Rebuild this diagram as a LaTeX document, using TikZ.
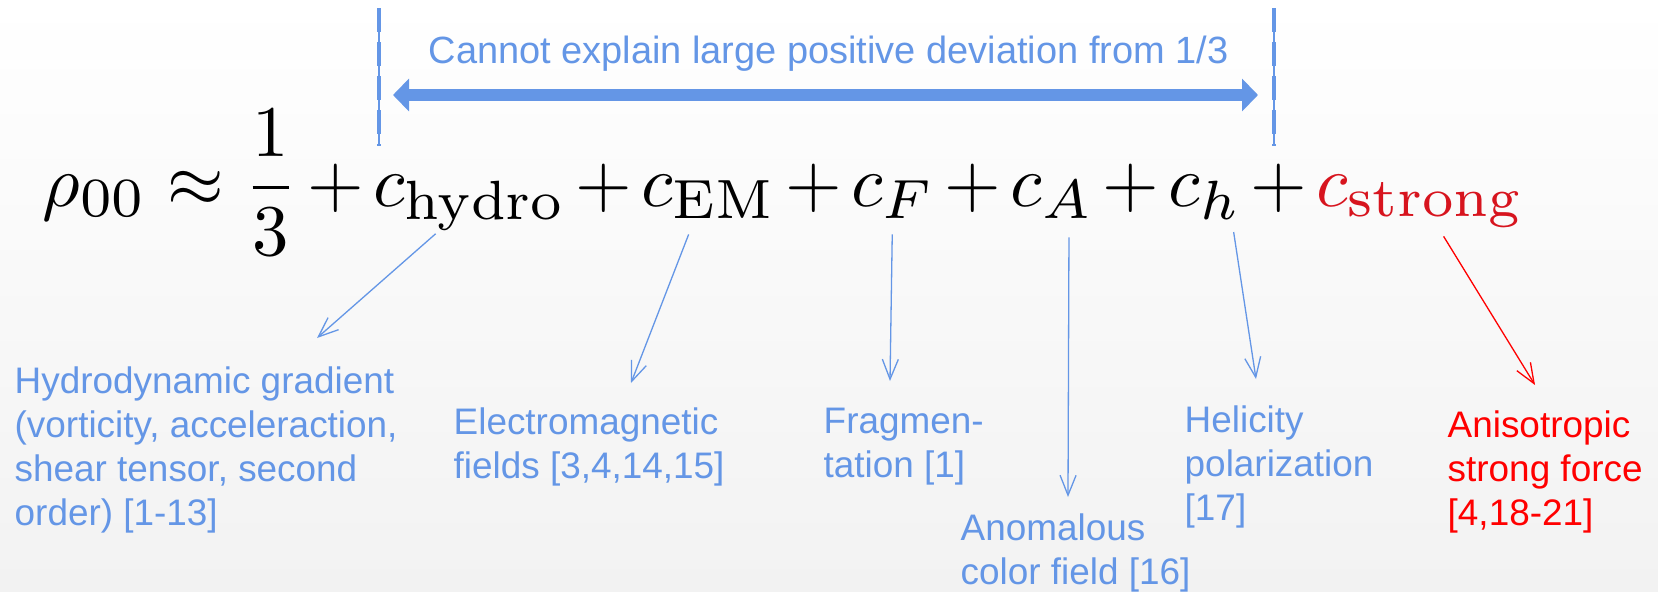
\RequirePackage{fix-cm}
\documentclass[tikz,border=0pt]{standalone}
\usepackage[no-math]{fontspec}
\usepackage{graphicx}
\newfontfamily\labelfont{Liberation Sans}
\usetikzlibrary{positioning, arrows.meta}
\DeclareMathSizes{10}{10}{7.6}{5}
\definecolor{slideblue}{RGB}{100,150,230}
\definecolor{slidered}{RGB}{255,0,0}
\definecolor{termred}{RGB}{215,20,30}
\definecolor{slidegray}{RGB}{242,242,242}
\newcommand{\slidemath}[1]{\scalebox{2.07}{$\displaystyle\medmuskip=2mu #1$}}
\tikzset{
	eqpart/.style={inner sep=0pt},
	remark/.style={inner sep=0pt, anchor=north west, align=left, text=slideblue, font=\labelfont\fontsize{10.5}{12.5}\selectfont},
	pointer/.style={draw=slideblue, line width=0.37pt, -{Straight Barb[length=2mm, width=1.6mm]}},
	bound/.style={slideblue, line width=0.4mm, dash pattern=on 2.4mm off 1mm},
	span/.style={slideblue, line width=1.2mm, {Triangle[length=1.6mm, width=3.2mm]}-{Triangle[length=1.6mm, width=3.2mm]}},
}
\begin{document}
\begin{tikzpicture}[x=.1mm, y=-.1mm]
	\useasboundingbox (0,0) rectangle (1658,591);
	\shade[top color=white, bottom color=slidegray] (0,0) rectangle (1658,591);
	\foreach \side/\xpos in {l/379, r/1274}{
			\coordinate (bound-\side-top) at (\xpos, 8);
			\coordinate (bound-\side-bot) at (\xpos, 146);
			\draw[slideblue, line width=.12mm] (bound-\side-top) -- (bound-\side-bot);
			\draw[bound] (bound-\side-top) -- (bound-\side-bot);
		}
	\coordinate (span-l) at (393, 95);
	\coordinate (span-r) at (1258, 95);
	\draw[span] (span-l) -- (span-r);
	\node[remark, font=\labelfont\fontsize{10.8}{12.5}\selectfont] (caveat) at (428, 35) {Cannot explain large positive deviation from 1/3};
	\node[eqpart, anchor=base west] (lead) at (42, 206) {\slidemath{\rho_{00}\approx\frac{1}{3}}};
	\foreach \term/\sub [remember=\term as \prev (initially lead)] in {hydro/\mathrm{hydro}, em/\mathrm{EM}, frag/F, anom/A, heli/h}{
			\node[eqpart, base right=0pt of \prev] (plus-\term) {\slidemath{{}+{}}};
			\node[eqpart, base right=0pt of plus-\term] (\term) {\slidemath{c_{\sub}}};
		}
	\node[eqpart, base right=0pt of heli] (plus-strong) {\slidemath{{}+{}}};
	\node[eqpart, text=termred, base right=0pt of plus-strong] (strong) {\slidemath{c_{\mathrm{strong}}}};
	\node[remark] (hydrograd) at (14, 366) {Hydrodynamic gradient\\(vorticity, acceleraction,\\shear tensor, second\\order) [1-13]};
	\node[remark] (emfield) at (453, 407) {Electromagnetic\\fields [3,4,14,15]};
	\node[remark] (fragment) at (823, 407) {Fragmen-\\tation [1]};
	\node[remark] (anomalous) at (960, 513) {Anomalous\\color field [16]};
	\node[remark] (helicity) at (1184, 405) {Helicity\\polarization\\{}[17]};
	\node[remark, text=slidered] (aniso) at (1447, 410) {Anisotropic\\strong force\\{}[4,18-21]};
	\draw[pointer] ([xshift=-3.4mm, yshift=-.3mm]hydro.south) -- ([xshift=30.3mm, yshift=2.8mm]hydrograd.north west);
	\draw[pointer] ([xshift=-2mm, yshift=-1.5mm]em.south) -- ([xshift=17.8mm, yshift=2.4mm]emfield.north west);
	\draw[pointer] ([xshift=-.1mm, yshift=-1.5mm]frag.south) -- ([xshift=6.7mm, yshift=2.6mm]fragment.north west);
	\draw[pointer] ([xshift=1.7mm, yshift=-1.8mm]anom.south) -- ([xshift=10.8mm, yshift=1.6mm]anomalous.north west);
	\draw[pointer] ([xshift=-.8mm, yshift=-1.2mm]heli.south east) -- ([xshift=7.2mm, yshift=2.6mm]helicity.north west);
	\draw[pointer, draw=slidered] ([xshift=2.3mm, yshift=-.8mm]strong.south) -- ([xshift=8.8mm, yshift=2.5mm]aniso.north west);
\end{tikzpicture}
\end{document}
